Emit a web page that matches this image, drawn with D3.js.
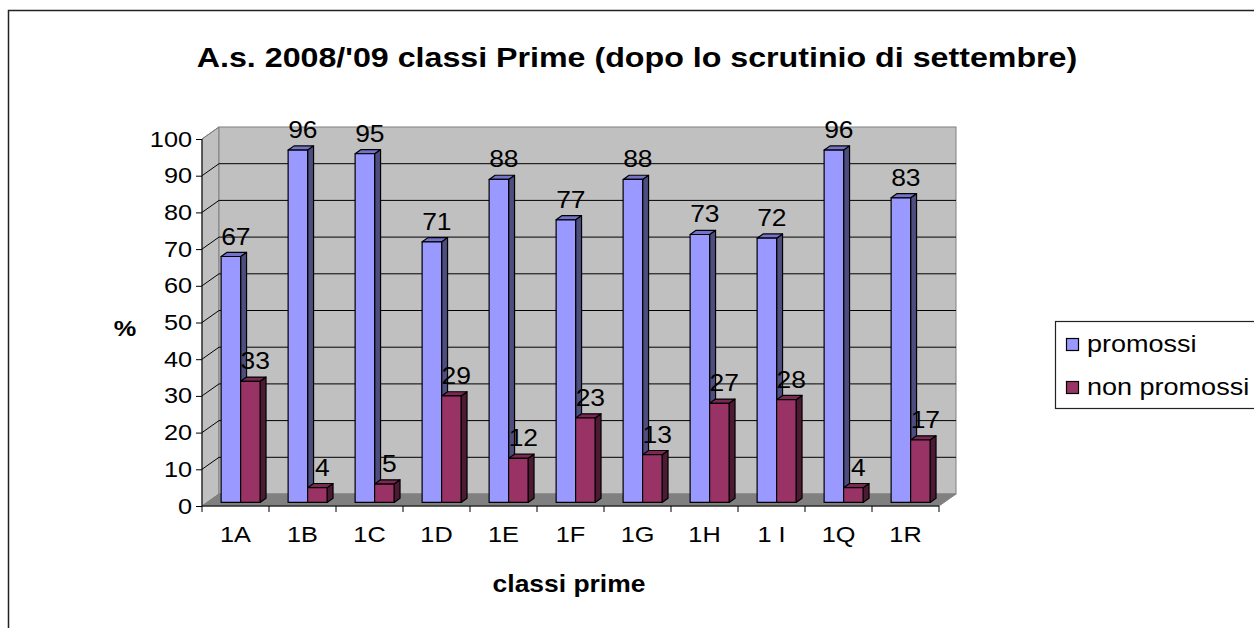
<!DOCTYPE html>
<html>
<head>
<meta charset="utf-8">
<title>Classi Prime 2008/09</title>
<script src="https://cdn.jsdelivr.net/npm/d3@7/dist/d3.min.js"></script>
<style>
  body { margin: 0; background: #fff; }
  svg { display: block; font-family: Arial, "Liberation Sans", sans-serif; }
</style>
</head>
<body>
<svg id="chart" width="1254" height="628"></svg>
<script>
  // data
  const classi = ["1A", "1B", "1C", "1D", "1E", "1F", "1G", "1H", "1 I", "1Q", "1R"];
  const serie = ["promossi", "non promossi"];
  const promossi = [67, 96, 95, 71, 88, 77, 88, 73, 72, 96, 83];
  const nonPromossi = [33, 4, 5, 29, 12, 23, 13, 27, 28, 4, 17];
  const yTicks = [0, 10, 20, 30, 40, 50, 60, 70, 80, 90, 100];

  const colori = {
    "promossi": { front: "#9999ff", top: "#7373c9", side: "#4d4d80" },
    "non promossi": { front: "#993366", top: "#7a2952", side: "#4d1a33" }
  };

  // the original picture is a bit wider than tall, text comes out stretched
  const SX = 1.15;
  function stretch(sel) {
    sel.attr("transform", function () {
      const t = d3.select(this);
      const tx = +t.attr("x") || 0, ty = +t.attr("y") || 0;
      return `translate(${tx},${ty}) scale(${SX},1) translate(${-tx},${-ty})`;
    });
  }

  const svg = d3.select("#chart");

  // outer frame (runs off the right and bottom edges)
  svg.append("rect")
    .attr("x", 8.5).attr("y", 10.5)
    .attr("width", 1300).attr("height", 700)
    .attr("fill", "#fff").attr("stroke", "#222").attr("stroke-width", 1.5);

  // title
  svg.append("text")
    .attr("x", 637).attr("y", 67)
    .attr("text-anchor", "middle")
    .style("font-size", "28px").style("font-weight", "bold")
    .text("A.s. 2008/'09 classi Prime (dopo lo scrutinio di settembre)")
    .call(stretch);

  const x = d3.scaleBand().domain(classi).range([202, 939]);
  const y = d3.scaleLinear().domain([0, 100]).range([506, 139]);
  const x1 = d3.scaleBand().domain(serie).range([0, x.bandwidth()])
    .paddingInner(0).paddingOuter(0.72);

  // depth of the 3d box
  const dx = 17, dy = -12;
  const [x0, xEnd] = x.range();

  // left side wall
  svg.append("polygon")
    .attr("points", [[x0, y(0)], [x0 + dx, y(0) + dy], [x0 + dx, y(100) + dy], [x0, y(100)]].join(" "))
    .attr("fill", "#c0c0c0").attr("stroke", "#808080");

  // back wall
  svg.append("rect")
    .attr("x", x0 + dx).attr("y", y(100) + dy)
    .attr("width", xEnd - x0).attr("height", y(0) - y(100))
    .attr("fill", "#c0c0c0").attr("stroke", "#808080");

  // floor
  svg.append("polygon")
    .attr("points", [[x0, y(0)], [xEnd, y(0)], [xEnd + dx, y(0) + dy], [x0 + dx, y(0) + dy]].join(" "))
    .attr("fill", "#808080").attr("stroke", "#808080");

  // gridlines
  const grid = svg.append("g");
  yTicks.filter(t => t > 0 && t < 100).forEach(t => {
    grid.append("polyline")
      .attr("points", [[x0, y(t)], [x0 + dx, y(t) + dy], [xEnd + dx, y(t) + dy]].join(" "))
      .attr("fill", "none").attr("stroke", "#000").attr("stroke-width", 1);
  });
  grid.append("line")
    .attr("x1", x0).attr("y1", y(100)).attr("x2", x0 + dx).attr("y2", y(100) + dy)
    .attr("stroke", "#808080");

  // bars
  const bd0 = 0.3, bd1 = 0.35; // bar front depth and bar thickness (as share of box depth)
  const rows = [];
  classi.forEach((c, i) => {
    rows.push({ c: c, s: "promossi", v: promossi[i] });
    rows.push({ c: c, s: "non promossi", v: nonPromossi[i] });
  });

  const bars = svg.append("g");
  rows.forEach(d => {
    const bx = x(d.c) + x1(d.s) + dx * bd0;
    const bw = x1.bandwidth();
    const by0 = y(0) + dy * bd0;
    const byt = y(d.v) + dy * bd0;
    const ox = dx * bd1, oy = dy * bd1;
    const col = colori[d.s];
    const g = bars.append("g").attr("stroke", "#000").attr("stroke-width", 1.2).attr("stroke-linejoin", "round");
    g.append("polygon")
      .attr("points", [[bx + bw, by0], [bx + bw + ox, by0 + oy], [bx + bw + ox, byt + oy], [bx + bw, byt]].join(" "))
      .attr("fill", col.side);
    g.append("polygon")
      .attr("points", [[bx, byt], [bx + bw, byt], [bx + bw + ox, byt + oy], [bx + ox, byt + oy]].join(" "))
      .attr("fill", col.top);
    g.append("rect")
      .attr("x", bx).attr("y", byt).attr("width", bw).attr("height", by0 - byt)
      .attr("fill", col.front);
    bars.append("text")
      .attr("x", bx + bw / 2 + 5).attr("y", byt - 12)
      .attr("text-anchor", "middle")
      .style("font-size", "23px")
      .text(d.v)
      .call(stretch);
  });

  // y axis
  const yAxis = svg.append("g")
    .attr("transform", `translate(${x0},0)`)
    .call(d3.axisLeft(y).tickValues(yTicks).tickSize(6).tickPadding(4).tickFormat(d3.format("d")));
  yAxis.select(".domain").remove();
  yAxis.selectAll(".tick line").attr("stroke", "#000");
  yAxis.selectAll(".tick text").style("font-size", "22px").attr("fill", "#000").attr("font-family", null)
    .attr("y", 0).call(stretch);
  svg.append("line")
    .attr("x1", x0).attr("x2", x0).attr("y1", y(100)).attr("y2", y(0))
    .attr("stroke", "#000");

  // x axis
  const xAxis = svg.append("g")
    .attr("transform", `translate(0,${y(0)})`)
    .call(d3.axisBottom(x).tickSize(0).tickPadding(20));
  xAxis.select(".domain").remove();
  xAxis.selectAll(".tick text").style("font-size", "22px").attr("fill", "#000").attr("font-family", null)
    .call(stretch);
  svg.append("line")
    .attr("x1", x0).attr("x2", xEnd).attr("y1", y(0)).attr("y2", y(0))
    .attr("stroke", "#000");
  svg.append("g").selectAll("line")
    .data(classi.concat(["_end"]))
    .join("line")
    .attr("x1", (d, i) => i < classi.length ? x(d) : xEnd)
    .attr("x2", (d, i) => i < classi.length ? x(d) : xEnd)
    .attr("y1", y(0)).attr("y2", y(0) + 6)
    .attr("stroke", "#000");

  // axis titles
  svg.append("text")
    .attr("x", 569).attr("y", 592)
    .attr("text-anchor", "middle")
    .style("font-size", "23px").style("font-weight", "bold")
    .text("classi prime")
    .call(stretch);
  svg.append("text")
    .attr("x", 125).attr("y", 336)
    .attr("text-anchor", "middle")
    .style("font-size", "22px").style("font-weight", "bold")
    .text("%")
    .call(stretch);

  // legend
  const legend = svg.append("g");
  legend.append("rect")
    .attr("x", 1055.5).attr("y", 321.5).attr("width", 220).attr("height", 87)
    .attr("fill", "#fff").attr("stroke", "#222").attr("stroke-width", 1.2);
  serie.forEach((s, i) => {
    const ly = 344 + i * 43;
    legend.append("rect")
      .attr("x", 1066.5).attr("y", ly - 5.5).attr("width", 12).attr("height", 12)
      .attr("fill", colori[s].front).attr("stroke", "#000").attr("stroke-width", 1.2);
    legend.append("text")
      .attr("x", 1087).attr("y", ly + 8)
      .style("font-size", "23.5px")
      .text(s)
      .call(stretch);
  });
</script>
</body>
</html>
